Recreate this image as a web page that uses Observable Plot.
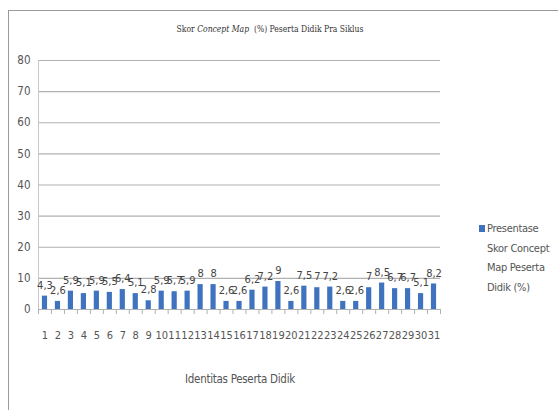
<!DOCTYPE html>
<html><head><meta charset="utf-8">
<script src="https://cdn.jsdelivr.net/npm/d3@7"></script>
<script src="https://cdn.jsdelivr.net/npm/@observablehq/plot@0.6"></script>
<style>
body{margin:0;background:#fff;width:558px;height:410px;overflow:hidden;position:relative;font-family:"DejaVu Sans Condensed","DejaVu Sans",sans-serif;font-stretch:condensed;}
#frame{position:absolute;left:8px;top:10px;width:560px;height:420px;border:1px solid #9a9a9a;box-sizing:border-box;}
#title{position:absolute;left:0;width:540px;top:24px;text-align:center;font-family:"DejaVu Serif","Liberation Serif",serif;font-stretch:condensed;font-size:8.5px;color:#333;}
#legend{position:absolute;left:479px;top:219px;font-size:11px;color:#555;line-height:19.5px;letter-spacing:-0.3px;}
#legend .sw{position:absolute;left:0;top:6px;width:6px;height:7px;background:#3f72bf;}
#legend .t{margin-left:8px;width:80px;white-space:nowrap;}
#xt{position:absolute;left:40px;width:400px;top:372px;text-align:center;font-size:11.5px;color:#555;letter-spacing:-0.3px;}
#chart{position:absolute;left:0;top:0;}
</style></head><body>
<div id="frame"></div>
<div id="title">Skor <i>Concept Map</i> &nbsp;(%) Peserta Didik Pra Siklus</div>
<div id="chart"></div>
<div id="xt">Identitas Peserta Didik</div>
<div id="legend"><div class="sw"></div><div class="t">Presentase<br>Skor Concept<br>Map Peserta<br>Didik (%)</div></div>
<script>
const students = d3.range(1, 32);
const scores = [4.3, 2.6, 5.9, 5.1, 5.9, 5.5, 6.4, 5.1, 2.8, 5.9, 5.7, 5.9, 8, 8, 2.6, 2.6, 6.2, 7.2, 9, 2.6, 7.5, 7, 7.2, 2.6, 2.6, 7, 8.5, 6.7, 6.7, 5.1, 8.2];
const yTicks = [0, 10, 20, 30, 40, 50, 60, 70, 80];
const data = students.map((s, i) => ({s, v: scores[i]}));
const fmt = v => String(v).replace(".", ",");
const chart = Plot.plot({
  width: 558, height: 410,
  marginTop: 60, marginBottom: 101, marginLeft: 38, marginRight: 118,
  style: {fontFamily: '"DejaVu Sans Condensed","DejaVu Sans",sans-serif', fontStretch: "condensed", background: "transparent"},
  x: {type: "linear", domain: [0.5, 31.5]},
  y: {domain: [0, 80]},
  marks: [
    Plot.ruleY(yTicks.filter(t => t > 0), {stroke: "#b0b0b0", strokeWidth: 1.2}),
    Plot.ruleX([0.5], {stroke: "#c8c8c8", strokeWidth: 1}),
    Plot.axisY({ticks: yTicks, tickSize: 0, tickPadding: 8, fontSize: 11.5, fill: "#555", label: null}),
    Plot.rectY(data, {x1: d => d.s - 0.2, x2: d => d.s + 0.2, y: "v", fill: "#3f72bf"}),
    Plot.ruleY([0], {stroke: "#b0b0b0", strokeWidth: 1.2}),
    Plot.axisX({ticks: d3.range(0.5, 32, 1), tickSize: 5, tickFormat: () => "", stroke: "#b0b0b0", label: null}),
    Plot.axisX({ticks: students, tickSize: 0, tickPadding: 22, fontSize: 11, fill: "#555", label: null, tickFormat: d => String(d)}),
    Plot.text(data, {x: "s", y: "v", text: d => fmt(d.v), dy: -11, fontSize: 11, fill: "#444"})
  ]
});
document.getElementById("chart").appendChild(chart);
</script>
</body></html>
